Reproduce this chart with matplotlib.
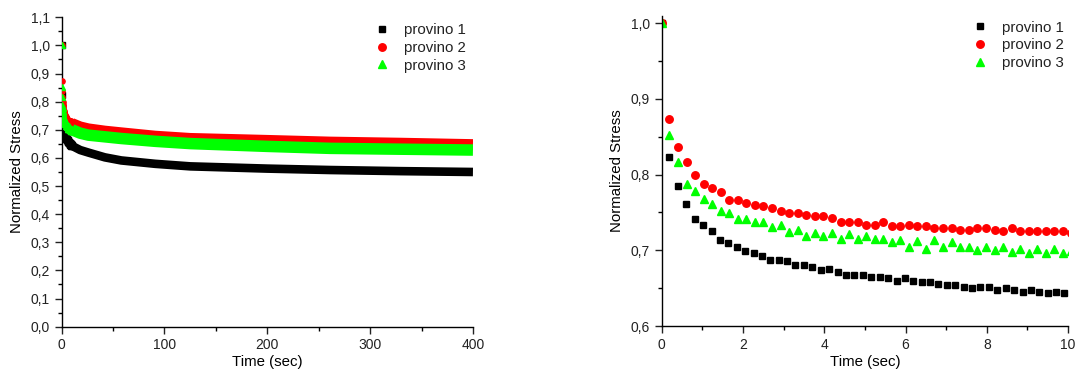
import matplotlib
matplotlib.use("Agg")
import matplotlib.pyplot as plt
from matplotlib.ticker import MultipleLocator, FuncFormatter

plt.rcParams['font.family'] = ['Liberation Sans', 'DejaVu Sans']

# --- first 10 s, one sample every ~0.2 s (right panel, also the spike in the left one)
t_p1 = [0, 0.19, 0.40, 0.60, 0.81, 1.02, 1.23, 1.43, 1.64, 1.85, 2.05, 2.26, 2.47,
        2.67, 2.88, 3.09, 3.29, 3.50, 3.71, 3.92, 4.12, 4.33, 4.54, 4.74, 4.95,
        5.16, 5.36, 5.57, 5.78, 5.98, 6.19, 6.40, 6.60, 6.81, 7.02, 7.22, 7.43,
        7.64, 7.84, 8.05, 8.26, 8.47, 8.67, 8.88, 9.09, 9.29, 9.50, 9.71, 9.91]
provino1 = [1.0, 0.823, 0.785, 0.761, 0.742, 0.734, 0.725, 0.714, 0.710, 0.705, 0.699,
            0.696, 0.693, 0.687, 0.687, 0.686, 0.681, 0.680, 0.678, 0.674, 0.675,
            0.671, 0.668, 0.667, 0.668, 0.665, 0.665, 0.663, 0.660, 0.663, 0.660,
            0.658, 0.658, 0.656, 0.654, 0.654, 0.652, 0.650, 0.652, 0.652, 0.647,
            0.650, 0.648, 0.645, 0.648, 0.645, 0.643, 0.645, 0.643]

t_p23 = [0, 0.19, 0.40, 0.61, 0.82, 1.03, 1.24, 1.45, 1.66, 1.87, 2.08, 2.29, 2.50,
         2.72, 2.93, 3.14, 3.35, 3.56, 3.77, 3.98, 4.19, 4.40, 4.61, 4.82, 5.03,
         5.24, 5.45, 5.66, 5.87, 6.08, 6.29, 6.50, 6.71, 6.93, 7.14, 7.35, 7.56,
         7.77, 7.98, 8.19, 8.40, 8.61, 8.82, 9.03, 9.24, 9.45, 9.66, 9.87, 10.08]
provino2 = [1.0, 0.873, 0.837, 0.817, 0.799, 0.788, 0.783, 0.777, 0.766, 0.766, 0.763,
            0.760, 0.758, 0.756, 0.752, 0.749, 0.749, 0.747, 0.745, 0.745, 0.743,
            0.738, 0.738, 0.738, 0.734, 0.734, 0.738, 0.732, 0.732, 0.734, 0.732,
            0.732, 0.730, 0.730, 0.730, 0.727, 0.727, 0.730, 0.730, 0.727, 0.725,
            0.730, 0.725, 0.725, 0.725, 0.725, 0.725, 0.725, 0.723]
provino3 = [1.0, 0.852, 0.817, 0.788, 0.778, 0.768, 0.761, 0.752, 0.749, 0.741, 0.741,
            0.737, 0.737, 0.731, 0.733, 0.724, 0.727, 0.719, 0.723, 0.719, 0.723,
            0.715, 0.721, 0.715, 0.719, 0.715, 0.715, 0.711, 0.713, 0.704, 0.712,
            0.702, 0.713, 0.704, 0.711, 0.704, 0.705, 0.700, 0.705, 0.700, 0.705,
            0.698, 0.702, 0.696, 0.702, 0.696, 0.702, 0.696, 0.699]

# --- long run (left panel), band centres read every few tens of seconds
t_long = [10, 18, 26, 42, 58, 91, 125, 200, 261, 330, 400]
long1 = [0.643, 0.628, 0.619, 0.602, 0.591, 0.579, 0.570, 0.562, 0.557, 0.553, 0.550]
long2 = [0.722, 0.710, 0.703, 0.695, 0.689, 0.677, 0.669, 0.662, 0.656, 0.652, 0.647]
long3 = [0.700, 0.688, 0.681, 0.675, 0.669, 0.659, 0.651, 0.641, 0.634, 0.631, 0.628]

labels = ['provino 1', 'provino 2', 'provino 3']
colors = ['#000000', '#ff0000', '#00ff00']
markers = ['s', 'o', '^']


def comma(v, pos):
    return ('%.1f' % v).replace('.', ',')


def style_axes(ax):
    for side in ('top', 'right'):
        ax.spines[side].set_visible(False)
    for side in ('left', 'bottom'):
        ax.spines[side].set_linewidth(1.0)
    ax.tick_params(which='major', direction='out', length=5, width=1.0,
                   labelsize=10, colors='#222222')
    ax.tick_params(which='minor', direction='out', length=3, width=1.0)
    ax.set_ylabel('Normalized Stress', fontsize=10.8, labelpad=5)
    ax.set_xlabel('Time (sec)', fontsize=10.8, labelpad=2)
    ax.yaxis.set_major_formatter(FuncFormatter(comma))


fig = plt.figure(figsize=(10.82, 3.74), dpi=100)

# left panel: whole test
ax1 = fig.add_axes([0.0570, 0.1265, 0.3801, 0.8273])
band_w = [6.2, 8.0, 8.3]  # points
times = [t_p1, t_p23, t_p23]
for i, (short, lng) in enumerate([(provino1, long1), (provino2, long2), (provino3, long3)]):
    ax1.plot(t_long, lng, color=colors[i], lw=band_w[i], solid_capstyle='butt',
             solid_joinstyle='round', zorder=2 + i)
    ax1.plot(times[i], short, linestyle='none', marker=markers[i], ms=3.8,
             color=colors[i], mec=colors[i], zorder=2 + i, label=labels[i])
ax1.set_xlim(0, 400)
ax1.set_ylim(0, 1.1)
ax1.xaxis.set_major_locator(MultipleLocator(100))
ax1.xaxis.set_minor_locator(MultipleLocator(50))
ax1.yaxis.set_major_locator(MultipleLocator(0.1))
ax1.yaxis.set_minor_locator(MultipleLocator(0.05))
style_axes(ax1)

# right panel: first 10 s
ax2 = fig.add_axes([0.6116, 0.1283, 0.3755, 0.8289])
ms = [4.6, 5.4, 5.8]
for i, (t, y) in enumerate([(t_p1, provino1), (t_p23, provino2), (t_p23, provino3)]):
    ax2.plot(t, y, linestyle='none', marker=markers[i], ms=ms[i], color=colors[i],
             mec=colors[i], label=labels[i], clip_on=True)
ax2.set_xlim(0, 10)
ax2.set_ylim(0.6, 1.0096)
ax2.xaxis.set_major_locator(MultipleLocator(2))
ax2.xaxis.set_minor_locator(MultipleLocator(1))
ax2.yaxis.set_major_locator(MultipleLocator(0.1))
ax2.yaxis.set_minor_locator(MultipleLocator(0.05))
style_axes(ax2)

for ax, anchor in [(ax1, (0.761, 0.981)), (ax2, (0.765, 0.985))]:
    leg = ax.legend(loc='upper left', bbox_to_anchor=anchor, frameon=False,
                    fontsize=10.8, handlelength=1.0, handletextpad=0.95,
                    labelspacing=0.25, borderpad=0, borderaxespad=0, markerscale=1.0)
    for h, m in zip(leg.legend_handles, [4.6, 5.4, 5.8]):
        h.set_markersize(m)
    for txt in leg.get_texts():
        txt.set_color('#222222')

fig.savefig('out.png', dpi=100)
